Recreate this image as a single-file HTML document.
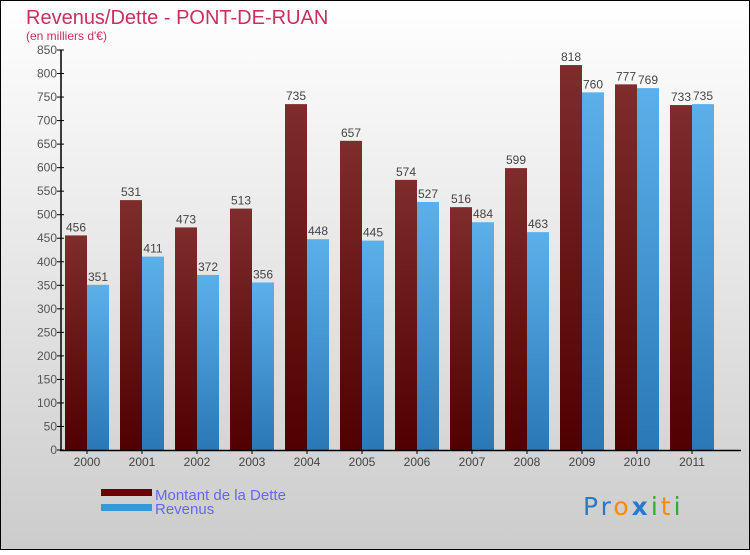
<!DOCTYPE html>
<html><head><meta charset="utf-8"><style>
body{margin:0;}
#c{position:relative;width:750px;height:550px;font-family:"Liberation Sans",sans-serif;}
</style></head><body>
<div id="c">
<svg width="750" height="550" xmlns="http://www.w3.org/2000/svg" font-family="Liberation Sans, sans-serif">
<defs>
<linearGradient id="bg" x1="0" y1="0" x2="0" y2="1"><stop offset="0" stop-color="#ffffff"/><stop offset="1" stop-color="#cccccc"/></linearGradient>
<linearGradient id="gd" x1="0" y1="0" x2="0" y2="1"><stop offset="0" stop-color="#7e2c2c"/><stop offset="1" stop-color="#500000"/></linearGradient>
<linearGradient id="gr" x1="0" y1="0" x2="0" y2="1"><stop offset="0" stop-color="#5cb0ea"/><stop offset="1" stop-color="#2a78b6"/></linearGradient>
</defs>
<rect x="0.5" y="0.5" width="749" height="549" fill="url(#bg)" stroke="#000"/>
<text x="26" y="24" font-size="20" fill="#c8305e">Revenus/Dette - PONT-DE-RUAN</text>
<text x="26" y="40" font-size="12" fill="#c8305e">(en milliers d'€)</text>
<g id="bars"></g>
<g id="axes"></g>
<rect x="101" y="489" width="51" height="7" fill="#6a0000"/>
<rect x="101" y="504" width="51" height="7" fill="#3399dd"/>
<text x="155" y="500" font-size="15" fill="#6666ee">Montant de la Dette</text>
<text x="155" y="514" font-size="15" fill="#6666ee">Revenus</text>
<text x="583" y="515" font-size="25" letter-spacing="3" font-family="DejaVu Sans, sans-serif"><tspan fill="#2a7acc">Pr</tspan><tspan fill="#ff8800">o</tspan><tspan fill="#2a7acc" font-weight="bold">x</tspan><tspan fill="#33aa33">i</tspan><tspan fill="#ff8800">t</tspan><tspan fill="#33aa33">i</tspan></text>
</svg>
</div>
<script>
const years=["2000","2001","2002","2003","2004","2005","2006","2007","2008","2009","2010","2011"];
const dette=[456,531,473,513,735,657,574,516,599,818,777,733];
const revenus=[351,411,372,356,448,445,527,484,463,760,769,735];
const yTicks=[0,50,100,150,200,250,300,350,400,450,500,550,600,650,700,750,800,850];
const NS="http://www.w3.org/2000/svg";
const y=v=>450-v*400/850;
const xc=i=>87+55*i;
const bars=document.getElementById('bars'),axes=document.getElementById('axes');
function mk(tag,attrs,parent,text){const e=document.createElementNS(NS,tag);for(const k in attrs)e.setAttribute(k,attrs[k]);if(text!==undefined)e.textContent=text;parent.appendChild(e);return e;}
years.forEach((yr,i)=>{
 const d=mk('rect',{x:xc(i)-22,y:y(dette[i]),width:22,height:450-y(dette[i]),fill:'url(#gd)'},bars);
 
 
 const r=mk('rect',{x:xc(i),y:y(revenus[i]),width:22,height:450-y(revenus[i]),fill:'url(#gr)'},bars);
 
 
 const t1=mk('text',{x:xc(i)-11,y:y(dette[i])-4,'font-size':12,fill:'#444','text-anchor':'middle'},bars,dette[i]);
 
 
 const t2=mk('text',{x:xc(i)+11,y:y(revenus[i])-4,'font-size':12,fill:'#444','text-anchor':'middle'},bars,revenus[i]);
 
 
 const tk=mk('line',{x1:xc(i),x2:xc(i),y1:450,y2:454,stroke:'#000'},axes);
 
 
 const xl=mk('text',{x:xc(i),y:466,'font-size':12,fill:'#444','text-anchor':'middle'},axes,yr);
 
 
});
yTicks.forEach(v=>{
 const l=mk('line',{x1:57,x2:64,y1:y(v),y2:y(v),stroke:'#000'},axes);
 
 
 const t=mk('text',{x:57,y:y(v)+4,'font-size':12,fill:'#555','text-anchor':'end'},axes,v);
 
 
});
const ya=mk('line',{x1:61,x2:61,y1:50,y2:451,stroke:'#000','stroke-width':1.5},axes);


const xa=mk('line',{x1:60,x2:741,y1:450.5,y2:450.5,stroke:'#000','stroke-width':1.5},axes);


</script>
</body></html>
